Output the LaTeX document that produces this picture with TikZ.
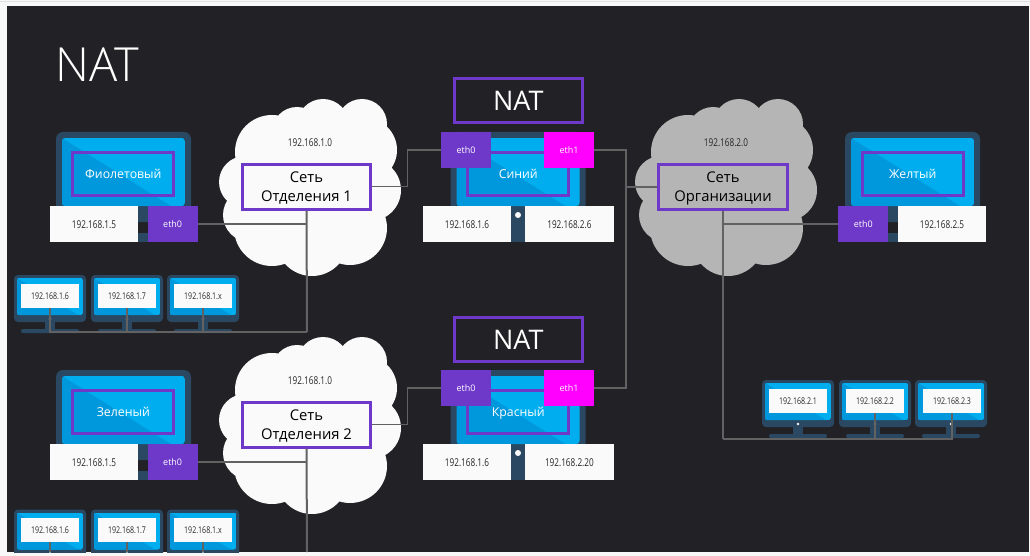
\documentclass[tikz,border=0pt]{standalone}
\usepackage{fontspec}
\setmainfont{Open Sans}
\newfontfamily\thinfont{Open Sans Light}
\newfontfamily\ipfont[FakeStretch=0.76]{Open Sans}
\usetikzlibrary{positioning, calc}
\definecolor{slide}{RGB}{34,34,38}
\definecolor{page}{RGB}{248,248,249}
\definecolor{frame}{RGB}{42,72,98}
\definecolor{screen}{RGB}{0,174,239}
\definecolor{screendark}{RGB}{0,152,220}
\definecolor{accent}{RGB}{110,56,200}
\definecolor{hotpink}{RGB}{255,0,255}
\definecolor{wire}{RGB}{98,98,98}
\definecolor{cloudgray}{RGB}{181,181,181}
\definecolor{cloudwhite}{RGB}{250,250,250}

% big monitor, left edge and top of the case
\newcommand{\bigscreen}[2]{
  \begin{scope}[shift={(#1,#2)}]
    \fill[frame, rounded corners=7pt] (0,0) rectangle (135,90);
    \fill[frame] (60.5,80) rectangle (74.5,110);
    \fill[frame] (20,101) rectangle (115,110);
    \begin{scope}
      \clip[rounded corners=3pt] (6,6) rectangle (129,74);
      \fill[screen] (6,6) rectangle (129,74);
      \fill[screendark] (6,6) -- (115,74) -- (6,74) -- cycle;
    \end{scope}
    \fill[cloudwhite] (67.5,83) circle (3);
  \end{scope}
}
% small monitor, white label sits on top of it
\newcommand{\smallscreen}[2]{
  \begin{scope}[shift={(#1,#2)}]
    \fill[frame, rounded corners=4pt] (0,0) rectangle (72,47);
    \fill[frame] (31,47) rectangle (41,55);
    \fill[frame, rounded corners=2pt] (7,54) rectangle (65,58);
    \begin{scope}
      \clip[rounded corners=2pt] (3,3) rectangle (69,40);
      \fill[screen] (3,3) rectangle (69,40);
      \fill[screendark] (3,3) -- (64,40) -- (3,40) -- cycle;
    \end{scope}
    \fill[cloudwhite] (36,44) circle (1.3);
  \end{scope}
}
% lobes of the cloud
\newcommand{\lobes}[3]{
  \begin{scope}[shift={(#1,#2)}]
    \fill[#3] (53,53) circle (37) (78,33) circle (25) (104,26) circle (26) (143,25) circle (25)
      (146,51) circle (32) (151,91) circle (31) (131,129) circle (37)
      (93,141) circle (36) (53,129) circle (38) (31,116) circle (27)
      (26,83) circle (26) (90,85) circle (55) (60,90) circle (40) (125,85) circle (40);
  \end{scope}
}

\begin{document}
\begin{tikzpicture}[
  x=1pt, y=-1pt,
  label/.style={font=\fontsize{10.8}{12}\ipfont, text=black!85, inner sep=0pt},
  ipbox/.style={fill=cloudwhite, minimum width=88.5pt, minimum height=36pt, inner sep=0pt,
    text height=9.5pt, text depth=0pt, font=\fontsize{10.8}{12}\ipfont, text=black!85},
  ethzero/.style={fill=accent, minimum width=50pt, minimum height=36pt, inner sep=0pt,
    font=\fontsize{9}{11}\selectfont, text=white},
  ethone/.style={ethzero, fill=hotpink},
  hostname/.style={draw=accent, line width=3pt, minimum width=101pt, minimum height=43pt,
    inner sep=0pt, text height=8.5pt, text depth=0pt, font=\fontsize{12.3}{14}\selectfont, text=white},
  netbox/.style={draw=accent, line width=3pt, fill=#1, minimum width=128.5pt, minimum height=45pt,
    align=center, inner sep=0pt, text depth=0pt, text=black, font=\fontsize{14.8}{19.5}\selectfont},
  natbox/.style={draw=accent, line width=3pt, minimum width=128pt, minimum height=44pt,
    inner sep=0pt, text height=21pt, text depth=0pt, text=white, font=\fontsize{27}{30}\selectfont},
  tinyip/.style={fill=cloudwhite, minimum width=58pt, minimum height=24pt, inner sep=0pt,
    font=\fontsize{9.3}{10}\ipfont, text=black!85},
  link/.style={draw=wire, line width=2pt},
  thin link/.style={draw=wire, line width=1.5pt}
]
  \useasboundingbox (0,0) rectangle (1030,556);
  \fill[page] (0,0) rectangle (1030,556);
  \fill[black!12] (0,1) rectangle (1030,2.2);
  \fill[slide] (7,6.5) rectangle (1029,552);
  \begin{scope}
  \clip (7,6.5) rectangle (1029,552);

  \node[text=white, inner sep=0pt, font=\fontsize{47}{50}\thinfont] (title) at (97,65) {NAT};

  % clouds
  \lobes{219}{99}{cloudwhite}
  \lobes{219}{337}{cloudwhite}
  \lobes{635}{99}{cloudgray}

  \node[label] (addra) at (310,142.5) {192.168.1.0};
  \node[label] (addrb) at (310,380.5) {192.168.1.0};
  \node[label] (addrc) at (726,142.5) {192.168.2.0};
  \node[netbox=cloudwhite] (net1) at (306.5,186.7) {Сеть\\Отделения 1};
  \node[netbox=cloudwhite] (net2) at (306.5,424.7) {Сеть\\Отделения 2};
  \node[netbox=cloudgray] (netorg) at (723,186.7) {Сеть\\Организации};

  % hosts
  \bigscreen{56}{132}
  \bigscreen{56}{370}
  \bigscreen{450.5}{132}
  \bigscreen{450.5}{370}
  \bigscreen{845}{132}

  \node[hostname] (violet) at (123.3,174) {Фиолетовый};
  \node[hostname] (green) at (123.3,412) {Зеленый};
  \node[hostname] (blue) at (518.3,174) {Синий};
  \node[hostname] (red) at (518.3,412) {Красный};
  \node[hostname] (yellow) at (912.7,174) {Желтый};

  \node[ipbox] (violetip) at (94,224) {192.168.1.5};
  \node[ethzero, right=9pt of violetip] (violeteth) {eth0};
  \node[ipbox] (greenip) at (94,462) {192.168.1.5};
  \node[ethzero, right=9pt of greenip] (greeneth) {eth0};
  \node[ipbox] (yellowip) at (942,224) {192.168.2.5};
  \node[ethzero, left=9pt of yellowip] (yelloweth) {eth0};

  \node[ipbox] (blueipa) at (467,224) {192.168.1.6};
  \node[ipbox, right=13.5pt of blueipa] (blueipb) {192.168.2.6};
  \node[ipbox] (redipa) at (467,462) {192.168.1.6};
  \node[ipbox, right=13.5pt of redipa] (redipb) {192.168.2.20};

  \node[ethzero] (blueethzero) at (466,150) {eth0};
  \node[ethone] (blueethone) at (569,150) {eth1};
  \node[ethzero] (redethzero) at (466,388) {eth0};
  \node[ethone] (redethone) at (569,388) {eth1};

  \node[natbox] (natblue) at (518.3,100.3) {NAT};
  \node[natbox] (natred) at (518.3,339) {NAT};

  % small monitors
  \smallscreen{14}{275}
  \smallscreen{91}{275}
  \smallscreen{167}{275}
  \smallscreen{14}{509.5}
  \smallscreen{91}{509.5}
  \smallscreen{167}{509.5}
  \smallscreen{762}{380}
  \smallscreen{839}{380}
  \smallscreen{915}{380}

  \node[tinyip] (pca) at (50,296) {192.168.1.6};
  \node[tinyip] (pcb) at (127,296) {192.168.1.7};
  \node[tinyip] (pcc) at (203,296) {192.168.1.x};
  \node[tinyip] (pcd) at (50,530) {192.168.1.6};
  \node[tinyip] (pce) at (127,530) {192.168.1.7};
  \node[tinyip] (pcf) at (203,530) {192.168.1.x};
  \node[tinyip] (pcg) at (798,401) {192.168.2.1};
  \node[tinyip] (pch) at (875,401) {192.168.2.2};
  \node[tinyip] (pci) at (952,401) {192.168.2.3};

  % links
  \coordinate (busa) at (307,332);
  \coordinate (busb) at (307,552);
  \coordinate (busc) at (723,439);
  \coordinate (pcd end) at (50,552);
  \coordinate (pce end) at (127,552);
  \coordinate (pcf end) at (203,552);

  \draw[link] (net1.south) -- (busa);
  \draw[thin link] (busa) -| (pca.south);
  \draw[thin link] (pcb.south) -- (pcb.south |- busa);
  \draw[thin link] (pcc.south) -- (pcc.south |- busa);
  \draw[link] (violeteth.east) -- (violeteth.east -| net1.south);
  \draw[thin link] (net1.east) -- ++(35,0) |- (blueethzero.west);

  \draw[link] (net2.south) -- (busb);
  \draw[link] (greeneth.east) -- (greeneth.east -| net2.south);
  \draw[thin link] (net2.east) -- ++(35,0) |- (redethzero.west);
  \draw[thin link] (pcd.south) -- (pcd end);
  \draw[thin link] (pce.south) -- (pce end);
  \draw[thin link] (pcf.south) -- (pcf end);

  \draw[thin link] (blueethone.east) -- ++(32,0) |- (redethone.east);
  \draw[link] (netorg.west) -- ++(-32,0);
  \draw[link] (netorg.south) -- (busc);
  \draw[thin link] (busc) -| (pci.south);
  \draw[thin link] (pch.south) -- (pch.south |- busc);
  \draw[link] (yelloweth.west) -- (yelloweth.west -| netorg.south);
  \end{scope}
\end{tikzpicture}
\end{document}
